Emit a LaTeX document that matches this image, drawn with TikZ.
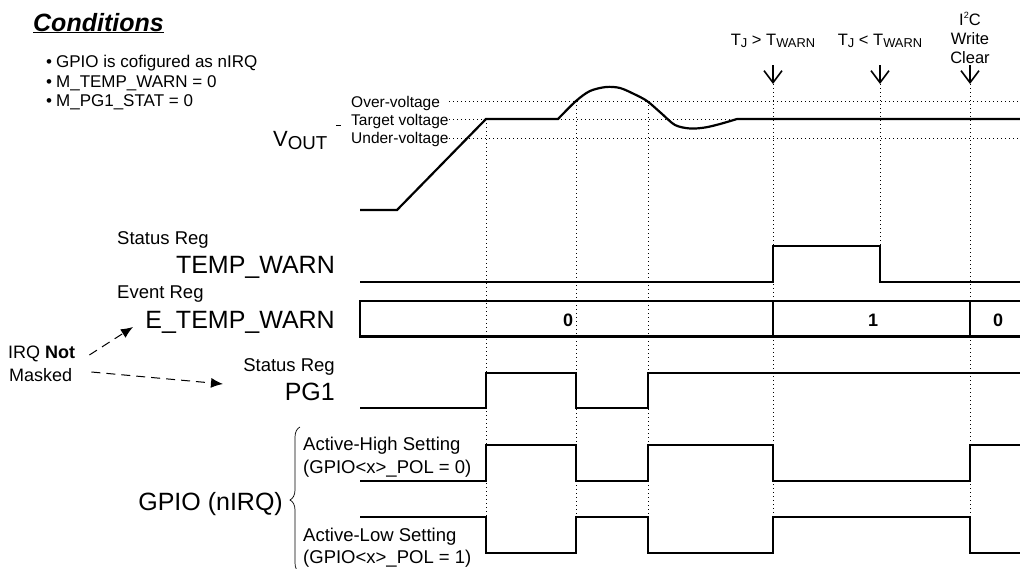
\documentclass[tikz,border=0pt]{standalone}
\usepackage{fontspec}
\setmainfont{Liberation Sans}
\usetikzlibrary{
	positioning				% relative placement
	, arrows.meta			% open barbs and filled tips
	, decorations.pathreplacing	% the brace
}
\newcommand{\lowtxt}[2][0.78]{\raisebox{-0.3ex}{\scalebox{#1}{#2}}}
\newcommand{\hightxt}[1]{\raisebox{0.75ex}{\scalebox{0.55}{#1}}}

\begin{document}
\begin{tikzpicture}[
				x=1pt, y=-1pt,
				txt/.style={
					inner sep=0pt,
					font=\fontsize{#1}{#1}\selectfont
				},
				wave/.style={
					line width=2.2pt,
					line join=miter
				},
				guide/.style={
					line width=0.9pt,
					dash pattern=on 1pt off 3pt
				},
				event/.style={
					-{Straight Barb[length=12pt,width=18pt]},
					line width=1.6pt
				},
				irqarrow/.style={
					-{Latex[length=12pt,width=10pt]},
					dash pattern=on 9pt off 6pt,
					line width=1pt
				}]

			\useasboundingbox (0,0) rectangle (1020,568);
			\clip (0,0) rectangle (1020,568);

			%%% Conditions in the top left corner
			\node [txt=25, anchor=base west] (cond) at (33,31) {\bfseries\itshape\underline{Conditions}};
			\foreach \name/\txt/\y in {bulGpio/GPIO is cofigured as nIRQ/67, bulTemp/M\_TEMP\_WARN = 0/87, bulPg/M\_PG1\_STAT = 0/106.5} {
				\node [txt=17, anchor=base west] (\name) at (46,\y) {\textbullet\hspace{4pt}\txt};
			};

			%%% Output voltage levels
			\foreach \name/\txt/\y/\base in {lvlOver/Over-voltage/101/107, lvlTarget/Target voltage/119/125, lvlUnder/Under-voltage/138/143.5} {
				\node [txt=15.5, anchor=base west] (\name) at (351,\base) {\txt};
				\draw [guide] (449,\y) -- (1020,\y);
			};
			\draw [line width=0.8pt] (336,125) -- (341,125);
			\node [txt=22, anchor=base west] (vout) at (273,146) {V\lowtxt[0.85]{OUT}};

			%%% Events along the top
			\node [txt=16.5, anchor=base] (evWarn) at (773,45) {T\lowtxt{J} > T\lowtxt{WARN}};
			\node [txt=16.5, anchor=base] (evCool) at (880,45) {T\lowtxt{J} < T\lowtxt{WARN}};
			\node [txt=16.5, anchor=base] (clearI2c) at (970,25) {I\hightxt{2}C};
			\node [txt=16.5, anchor=base] (clearWrite) at (970,44) {Write};
			\node [txt=16.5, anchor=base] (clearText) at (970,63.5) {Clear};
			\coordinate (tipWarn) at (773,84);
			\coordinate (tipCool) at (880,84);
			\coordinate (tipClear) at (970,84);
			\draw [event] (evWarn.base) ++(0,20) -- (tipWarn);
			\draw [event] (evCool.base) ++(0,20) -- (tipCool);
			\draw [event] (clearText.base) ++(0,1.5) -- (tipClear);

			%%% Dotted time marks
			\foreach \x/\ytop in {486/119, 576/101, 648/101, 773/84, 970/84} {
				\draw [guide] (\x,\ytop) -- (\x,553);
			};
			\draw [guide] (880,84) -- (880,246);

			%%% Register names
			\node [txt=18.5, anchor=base west] (srTemp) at (117,244) {Status Reg};
			\node [txt=25, anchor=base east] (tempWarn) at (335,273) {TEMP\_WARN};
			\node [txt=18.5, anchor=base west] (erTemp) at (117,298) {Event Reg};
			\node [txt=25, anchor=base east] (eTempWarn) at (335,328) {E\_TEMP\_WARN};
			\node [txt=18.5, anchor=base east] (srPg) at (335,371.5) {Status Reg};
			\node [txt=25, anchor=base east] (pgOne) at (335,400) {PG1};

			% IRQ not masked
			\node [txt=18, anchor=base west] (irq) at (8,358) {IRQ \textbf{Not}};
			\node [txt=18, anchor=base west] (masked) at (9,381.5) {Masked};
			\coordinate (irqTipE) at (133,327);
			\coordinate (irqTipPg) at (223,384);
			\draw [irqarrow] ([xshift=14pt,yshift=3pt]irq.base east) -- (irqTipE);
			\draw [irqarrow] ([xshift=19pt,yshift=9.5pt]masked.base east) -- (irqTipPg);

			% GPIO settings
			\node [txt=25, anchor=base east] (gpio) at (283,510) {GPIO (nIRQ)};
			\draw [decorate, decoration={brace, amplitude=10pt}, line width=0.7pt] (300,573) -- (300,427);
			\node [txt=18.5, anchor=base west] (actHigh) at (303,450.5) {Active-High Setting};
			\node [txt=18.5, anchor=base west] (actHighPol) at (303,473) {(GPIO<x>\_POL = 0)};
			\node [txt=18.5, anchor=base west] (actLow) at (303,541.5) {Active-Low Setting};
			\node [txt=18.5, anchor=base west] (actLowPol) at (303,563) {(GPIO<x>\_POL = 1)};

			%%% Waveforms
			\draw [wave] (360,210) -- (397,210) -- (486,119) -- plot[smooth] coordinates {
				(558,119) (576,101) (590,91) (606,87) (620,88) (634,94) (647,101)
				(661,113) (675,125) (690,128.5) (705,127.5) (720,124) (737,119)} -- (1020,119);
			\draw [wave] (360,282) -| (773,246) -| (880,282) -- (1020,282);
			\draw [wave] (1025,301) -| (360,336.5) -- (1025,336.5);
			\draw [wave] (773,301) -- (773,336.5);
			\draw [wave] (970,301) -- (970,336.5);
			\node [txt=18, anchor=base] (valA) at (568,326.5) {\bfseries 0};
			\node [txt=18, anchor=base] (valB) at (873,326.5) {\bfseries 1};
			\node [txt=18, anchor=base] (valC) at (998,326.5) {\bfseries 0};
			\draw [wave] (360,408) -| (486,373) -| (576,408) -| (648,373) -- (1020,373);
			\draw [wave] (360,481) -| (486,445) -| (576,481) -| (648,445) -| (773,481) -| (970,445) -- (1020,445);
			\draw [wave] (360,517) -| (486,553) -| (576,517) -| (648,553) -| (773,517) -| (970,553) -- (1020,553);

		\end{tikzpicture}
\end{document}
